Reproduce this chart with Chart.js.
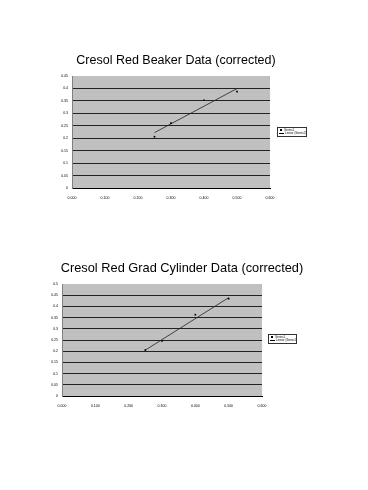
<!DOCTYPE html>
<html>
<head>
<meta charset="utf-8">
<script src="https://cdn.jsdelivr.net/npm/chart.js@4.4.0/dist/chart.umd.min.js"></script>
<style>
  body { margin: 0; background: #fff; font-family: "Liberation Sans", Arial, sans-serif; }
  .wrap { position: absolute; left: 0; width: 368px; height: 245px; }
  .title { position: absolute; white-space: nowrap; font-size: 12.5px; color: #000; transform: translateX(-50%); }
  .legend { position: absolute; border: 1px solid #333; background: #fff; font-size: 3px; line-height: 3.5px; padding: 0.5px 1px; color: #000; white-space: nowrap; overflow: hidden; }
  .legend span.mk { display: inline-block; width: 2px; height: 2px; background: #000; margin: 0 2px 0 1px; vertical-align: middle; }
  .legend span.ln { display: inline-block; width: 5px; height: 0; border-top: 1px solid #000; margin-right: 1px; vertical-align: middle; }
</style>
</head>
<body>
<div class="wrap" style="top:0">
  <canvas id="beakerChart" width="368" height="245"></canvas>
  <div class="title" style="left:176px; top:53px;">Cresol Red Beaker Data (corrected)</div>
  <div class="legend" id="beakerLegend" style="left:277px; top:127px; width:26px; height:7px;"></div>
</div>
<div class="wrap" style="top:245px">
  <canvas id="gradChart" width="368" height="245"></canvas>
  <div class="title" style="left:182px; top:15px; font-size:12.8px;">Cresol Red Grad Cylinder Data (corrected)</div>
  <div class="legend" id="gradLegend" style="left:268px; top:89px; width:25px; height:7px;"></div>
</div>
<script>
// concentration values (x) shared by both charts
const concentrations = [0.25, 0.30, 0.40, 0.50];

// beaker absorbance readings
const beakerAbs = [0.206, 0.261, 0.3525, 0.387];
// trendline ends
const beakerTrendX = [0.25, 0.50];
const beakerTrendY = [0.2225, 0.3995];

// grad cylinder absorbance readings
const gradAbs = [0.205, 0.2455, 0.363, 0.4345];
const gradTrendX = [0.25, 0.50];
const gradTrendY = [0.205, 0.439];

const xTicks = [0, 0.1, 0.2, 0.3, 0.4, 0.5, 0.6];
const beakerYMax = 0.45;
const gradYMax = 0.5;

const seriesName = 'Series1';
const trendName = 'Linear (Series1)';

function toPoints(xs, ys) {
    return xs.map((x, i) => ({ x: x, y: ys[i] }));
}

// gray plot area like excel
const plotBg = {
    id: 'plotBg',
    beforeDraw(chart) {
        const a = chart.chartArea, c = chart.ctx;
        c.save();
        c.fillStyle = '#c0c0c0';
        c.fillRect(a.left, a.top, a.right - a.left, a.bottom - a.top);
        c.restore();
    }
};

function makeChart(id, abs, tx, ty, yMax, pad) {
    const tickFont = { family: 'Liberation Sans', size: 3.5 };
    return new Chart(document.getElementById(id), {
        type: 'scatter',
        data: {
            datasets: [
                {
                    label: seriesName,
                    data: toPoints(concentrations, abs),
                    pointStyle: 'rect',
                    pointRadius: 1.2,
                    backgroundColor: '#000',
                    borderColor: '#000',
                    borderWidth: 0
                },
                {
                    label: trendName,
                    data: toPoints(tx, ty),
                    showLine: true,
                    pointRadius: 0,
                    borderColor: '#222',
                    borderWidth: 0.8
                }
            ]
        },
        options: {
            responsive: false,
            animation: false,
            layout: { padding: pad },
            plugins: {
                legend: { display: false },
                title: { display: false },
                tooltip: { enabled: false }
            },
            scales: {
                x: {
                    type: 'linear',
                    min: 0, max: 0.6,
                    afterBuildTicks: s => { s.ticks = xTicks.map(v => ({ value: v })); },
                    afterFit: s => { s.height = 12; },
                    grid: { display: false },
                    border: { color: '#000', width: 1 },
                    ticks: {
                        font: tickFont, color: '#000', padding: 0,
                        maxRotation: 0, autoSkip: false,
                        callback: v => v.toFixed(3)
                    }
                },
                y: {
                    min: 0, max: yMax,
                    afterFit: s => { s.width = 20; },
                    grid: {
                        color: ctx => (ctx.tick && ctx.tick.value >= yMax - 1e-9) ? 'rgba(0,0,0,0)' : '#222',
                        lineWidth: 1,
                        drawTicks: false
                    },
                    border: { color: '#808080', width: 1 },
                    ticks: {
                        stepSize: 0.05, font: tickFont, color: '#000', padding: 4,
                        callback: v => String(Math.round(v * 100) / 100)
                    }
                }
            }
        },
        plugins: [plotBg]
    });
}

function fillLegend(chart, elId) {
    const ds = chart.data.datasets;
    document.getElementById(elId).innerHTML =
        '<div><span class="mk"></span>' + ds[0].label + '</div>' +
        '<div><span class="ln"></span>' + ds[1].label + '</div>';
}

const beaker = makeChart('beakerChart', beakerAbs, beakerTrendX, beakerTrendY, beakerYMax,
    { top: 76, left: 52, right: 98, bottom: 45 });
fillLegend(beaker, 'beakerLegend');

const grad = makeChart('gradChart', gradAbs, gradTrendX, gradTrendY, gradYMax,
    { top: 39, left: 42, right: 106, bottom: 82 });
fillLegend(grad, 'gradLegend');
</script>
</body>
</html>
